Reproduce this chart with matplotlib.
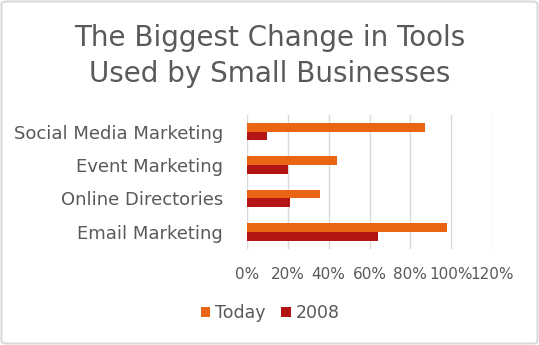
import matplotlib
matplotlib.use("Agg")
import matplotlib.pyplot as plt
from matplotlib.patches import FancyBboxPatch
import numpy as np

categories = ["Social Media Marketing", "Event Marketing", "Online Directories", "Email Marketing"]
today = [0.87, 0.44, 0.36, 0.98]
y2008 = [0.10, 0.20, 0.21, 0.64]
xticks = [0, 0.2, 0.4, 0.6, 0.8, 1.0, 1.2]
xticklabels = ["0%", "20%", "40%", "60%", "80%", "100%", "120%"]

plt.rcParams['font.family'] = ['DejaVu Sans']
gray = "#595959"
c_today = "#E96514"
c_2008 = "#B31515"

W, H = 539, 345
fig = plt.figure(figsize=(W/100, H/100), dpi=100)
ax = fig.add_axes([246.7/W, 1-248.6/H, (492.3-246.7)/W, (248.6-115)/H])

n = len(categories)
pos = np.arange(n)
h = 0.26
ax.barh(pos - h/2, today, height=h, color=c_today, label="Today")
ax.barh(pos + h/2, y2008, height=h, color=c_2008, label="2008")
ax.set_ylim(n - 0.5, -0.5)
ax.set_xlim(0, 1.2)
ax.set_xticks(xticks)
ax.set_xticklabels(xticklabels)
ax.set_yticks(pos)
ax.set_yticklabels(categories)
ax.tick_params(axis='both', length=0, colors=gray)
ax.tick_params(axis='y', pad=17, labelsize=13)
ax.tick_params(axis='x', pad=13.5, labelsize=11)
for s in ax.spines.values():
    s.set_visible(False)
ax.grid(axis='x', color="#D9D9D9", linewidth=1)
ax.set_axisbelow(True)

fig.text(0.5, 1-56/H, "The Biggest Change in Tools\nUsed by Small Businesses", ha='center', va='center',
         fontsize=20, color=gray, linespacing=1.35)

leg = fig.legend(loc='center', bbox_to_anchor=(270/W, 1-313/H), ncol=2, frameon=False,
                 fontsize=12.5, handlelength=0.55, handleheight=0.55, handletextpad=0.25,
                 columnspacing=0.95)
for t in leg.get_texts():
    t.set_color(gray)

fig.patches.append(FancyBboxPatch((1.5/W, 1.5/H), 1-3/W, 1-3/H, boxstyle="round,pad=0,rounding_size=0.008",
                                  transform=fig.transFigure, fill=False, edgecolor="#D9D9D9", linewidth=1.5))

fig.savefig("out.png", dpi=100)
